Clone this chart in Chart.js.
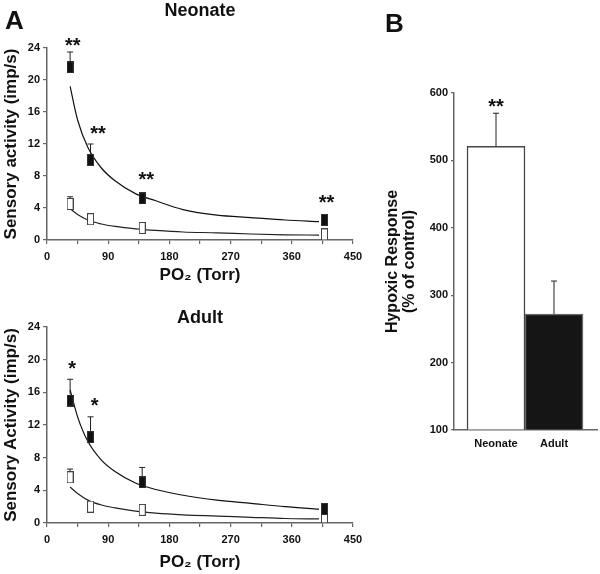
<!DOCTYPE html>
<html>
<head>
<meta charset="utf-8">
<script src="https://cdn.jsdelivr.net/npm/chart.js@4"></script>
<style>
  body { margin: 0; background: #fff; }
  #wrap { position: relative; width: 600px; height: 574px; overflow: hidden; font-family: 'Liberation Sans', Arial, sans-serif; }
  canvas { position: absolute; }
  .panel { position: absolute; font-weight: bold; font-size: 26px; line-height: 26px; color: #111; }
</style>
</head>
<body>
<div id="wrap">
  <canvas id="neo" width="380" height="290" style="left:0;top:0"></canvas>
  <canvas id="adult" width="380" height="289" style="left:0;top:285px"></canvas>
  <canvas id="bars" width="240" height="574" style="left:360px;top:0"></canvas>
  <div class="panel" style="left:5px;top:7px">A</div>
  <div class="panel" style="left:385px;top:10px">B</div>
</div>
<script>
// measured points (PO2 in Torr)
const PO2 = [34, 64, 140, 408];

const NEO_FILLED = [21.6, 10.0, 5.2, 2.5];
const NEO_FILLED_ERR = [1.9, 2.0, 0, 0];
const NEO_OPEN = [4.5, 2.6, 1.5, 0.7];
const NEO_OPEN_ERR = [0.9, 0, 0, 0];

const ADULT_FILLED = [15.0, 10.5, 5.0, 1.7];
const ADULT_FILLED_ERR = [2.6, 2.5, 1.8, 0];
const ADULT_OPEN = [5.6, 2.0, 1.6, 0.7];
const ADULT_OPEN_ERR = [1.0, 0, 0, 0];

// fitted curves
const FIT_PO2 = [34, 45, 60, 80, 100, 130, 160, 200, 250, 300, 350, 400];
const NEO_FILLED_FIT = [19.2, 15.0, 11.6, 9.0, 7.4, 5.8, 4.9, 3.8, 3.1, 2.8, 2.5, 2.3];
const NEO_OPEN_FIT = [3.9, 3.2, 2.5, 2.0, 1.7, 1.4, 1.2, 1.0, 0.9, 0.75, 0.65, 0.62];
const ADULT_FILLED_FIT = [16.3, 13.0, 10.0, 7.7, 6.3, 4.9, 4.1, 3.4, 2.8, 2.4, 2.0, 1.7];
const ADULT_OPEN_FIT = [4.4, 3.6, 2.8, 2.2, 1.85, 1.45, 1.2, 1.0, 0.85, 0.7, 0.55, 0.5];

// significance marks
const NEO_STAR_X = [38, 75, 146, 411];
const NEO_STAR_Y = [25.0, 13.9, 8.2, 5.3];
const NEO_STAR_TEXT = ['**', '**', '**', '**'];
const ADULT_STAR_X = [37, 70];
const ADULT_STAR_Y = [19.6, 15.0];
const ADULT_STAR_TEXT = ['*', '*'];

// panel B
const BAR_LABELS = ['Neonate', 'Adult'];
const BAR_VALUES = [521, 272];
const BAR_ERR = [49, 49];
const BAR_STAR_X = [0];
const BAR_STAR_Y = [588];
const BAR_STAR_TEXT = ['**'];

const FONT = "'Liberation Sans', Arial, sans-serif";
Chart.defaults.font.family = FONT;
Chart.defaults.font.weight = 'bold';
Chart.defaults.color = '#111';

const AXIS = '#666';

function boxMark(fill, stroke) {
  const c = document.createElement('canvas');
  c.width = 7; c.height = 12;
  const g = c.getContext('2d');
  g.fillStyle = fill;
  g.fillRect(0, 0, 7, 12);
  g.strokeStyle = stroke;
  g.lineWidth = 1;
  g.strokeRect(0.5, 0.5, 6, 11);
  return c;
}
const FILLED_BOX = boxMark('#111', '#333');
const OPEN_BOX = boxMark('#fff', '#444');

const pts = (xs, ys) => xs.map((x, i) => ({ x: x, y: ys[i] }));

const errorBars = {
  id: 'errorBars',
  afterDatasetsDraw(chart) {
    const ctx = chart.ctx;
    const ys = chart.scales.y;
    chart.data.datasets.forEach((ds, di) => {
      if (!ds.errors) return;
      chart.getDatasetMeta(di).data.forEach((el, i) => {
        const e = ds.errors[i];
        if (!e) return;
        const top = ys.getPixelForValue(ds.data[i].y + e);
        const from = el.y - (ds.errFrom || 0);
        ctx.save();
        ctx.strokeStyle = '#222';
        ctx.lineWidth = 1;
        ctx.beginPath();
        ctx.moveTo(el.x, from);
        ctx.lineTo(el.x, top);
        ctx.moveTo(el.x - 3, top);
        ctx.lineTo(el.x + 3, top);
        ctx.stroke();
        ctx.restore();
      });
    });
  }
};

function stars(xs, ys, texts, size) {
  return {
    id: 'stars',
    afterDraw(chart) {
      const ctx = chart.ctx;
      ctx.save();
      ctx.font = 'bold ' + size + 'px ' + FONT;
      ctx.fillStyle = '#111';
      ctx.textAlign = 'center';
      ctx.textBaseline = 'alphabetic';
      xs.forEach((x, i) => {
        const px = chart.scales.x.getPixelForValue(x);
        const py = chart.scales.y.getPixelForValue(ys[i]);
        ctx.fillText(texts[i], px, py + size * 0.58);
      });
      ctx.restore();
    }
  };
}

function sensoryChart(id, o) {
  return new Chart(document.getElementById(id), {
    type: 'line',
    data: {
      datasets: [
        { data: pts(PO2, o.filled), errors: o.filledErr, errFrom: 6, showLine: false,
          pointStyle: FILLED_BOX, pointRadius: 6, order: 0 },
        { data: pts(PO2, o.open), errors: o.openErr, errFrom: 6, showLine: false,
          pointStyle: OPEN_BOX, pointRadius: 6, order: 0 },
        { data: pts(FIT_PO2, o.filledFit), borderColor: '#111', borderWidth: 1.2,
          pointRadius: 0, cubicInterpolationMode: 'monotone', order: 1 },
        { data: pts(FIT_PO2, o.openFit), borderColor: '#222', borderWidth: 1.2,
          pointRadius: 0, cubicInterpolationMode: 'monotone', order: 1 }
      ]
    },
    options: {
      responsive: false,
      animation: false,
      devicePixelRatio: 1,
      layout: { padding: { left: 0, right: 27, top: 0, bottom: 0 } },
      plugins: {
        legend: { display: false },
        tooltip: { enabled: false },
        title: {
          display: true, text: o.title, fullSize: false,
          font: { size: 18, weight: 'bold', lineHeight: 1 },
          color: '#111',
          padding: o.titlePad
        }
      },
      scales: {
        x: {
          type: 'linear', min: 0, max: 450,
          border: { color: AXIS, width: 1.5 },
          grid: { drawOnChartArea: false, color: AXIS, lineWidth: 1.2, tickLength: 4 },
          ticks: {
            stepSize: 45, autoSkip: false, maxRotation: 0, padding: 6,
            font: { size: 11, weight: 'bold' },
            callback: v => (v % 90 === 0 ? v : '')
          },
          title: {
            display: true, text: 'PO₂ (Torr)',
            font: { size: 17, weight: 'bold', lineHeight: 1 },
            padding: { top: 0, bottom: o.xTitlePad }
          },
          afterFit: s => { s.height = o.xHeight; s.paddingLeft = 0; s.paddingRight = 0; }
        },
        y: {
          min: 0, max: 24,
          border: { color: AXIS, width: 1.5 },
          grid: { drawOnChartArea: false, color: AXIS, lineWidth: 1.2, tickLength: 4 },
          ticks: { stepSize: 4, padding: 3, font: { size: 11, weight: 'bold' } },
          title: {
            display: true, text: o.yTitle,
            font: { size: 17, weight: 'bold', lineHeight: 1 },
            padding: { top: 2.5, bottom: 0 }
          },
          afterFit: s => { s.width = 47; s.paddingTop = 0; s.paddingBottom = 0; }
        }
      }
    },
    plugins: [errorBars, stars(o.starX, o.starY, o.starText, 20)]
  });
}

sensoryChart('neo', {
  title: 'Neonate', titlePad: { top: 2, bottom: 28 },
  yTitle: 'Sensory activity (imp/s)',
  filled: NEO_FILLED, filledErr: NEO_FILLED_ERR,
  open: NEO_OPEN, openErr: NEO_OPEN_ERR,
  filledFit: NEO_FILLED_FIT, openFit: NEO_OPEN_FIT,
  starX: NEO_STAR_X, starY: NEO_STAR_Y, starText: NEO_STAR_TEXT,
  xHeight: 50, xTitlePad: 6.5
});

sensoryChart('adult', {
  title: 'Adult', titlePad: { top: 24, bottom: 0 },
  yTitle: 'Sensory Activity (imp/s)',
  filled: ADULT_FILLED, filledErr: ADULT_FILLED_ERR,
  open: ADULT_OPEN, openErr: ADULT_OPEN_ERR,
  filledFit: ADULT_FILLED_FIT, openFit: ADULT_OPEN_FIT,
  starX: ADULT_STAR_X, starY: ADULT_STAR_Y, starText: ADULT_STAR_TEXT,
  xHeight: 51, xTitlePad: 3.5
});

new Chart(document.getElementById('bars'), {
  type: 'bar',
  data: {
    datasets: [{
      data: pts([0, 1], BAR_VALUES),
      errors: BAR_ERR, errFrom: 0,
      backgroundColor: ['#fff', '#151515'],
      borderColor: ['#444', '#666'],
      borderWidth: 1.5,
      barThickness: 58,
      base: 100
    }]
  },
  options: {
    responsive: false,
    animation: false,
    devicePixelRatio: 1,
    layout: { padding: { left: 0, right: 3, top: 93, bottom: 0 } },
    plugins: { legend: { display: false }, tooltip: { enabled: false } },
    scales: {
      x: {
        type: 'linear', min: -0.724, max: 1.741, offset: false,
        afterBuildTicks: s => { s.ticks = [{ value: 0 }, { value: 1 }]; },
        ticks: {
          autoSkip: false, maxRotation: 0, padding: 7.5,
          font: { size: 11, weight: 'bold' },
          callback: v => BAR_LABELS[v]
        },
        grid: { display: false, drawTicks: false, offset: false },
        border: { color: AXIS, width: 1.5 },
        afterFit: s => { s.height = 144; s.paddingLeft = 0; s.paddingRight = 0; }
      },
      y: {
        min: 100, max: 600,
        border: { color: AXIS, width: 1.5 },
        grid: { drawOnChartArea: false, color: AXIS, lineWidth: 1.2, tickLength: 3 },
        ticks: { stepSize: 100, padding: 3, font: { size: 11, weight: 'bold' } },
        title: {
          display: true, text: ['Hypoxic Response', '(% of control)'],
          font: { size: 16, weight: 'bold', lineHeight: 1.06 },
          padding: { top: 24.5, bottom: 0 }
        },
        afterFit: s => { s.width = 94; s.paddingTop = 0; s.paddingBottom = 0; }
      }
    }
  },
  plugins: [errorBars, stars(BAR_STAR_X, BAR_STAR_Y, BAR_STAR_TEXT, 20)]
});
</script>
</body>
</html>
